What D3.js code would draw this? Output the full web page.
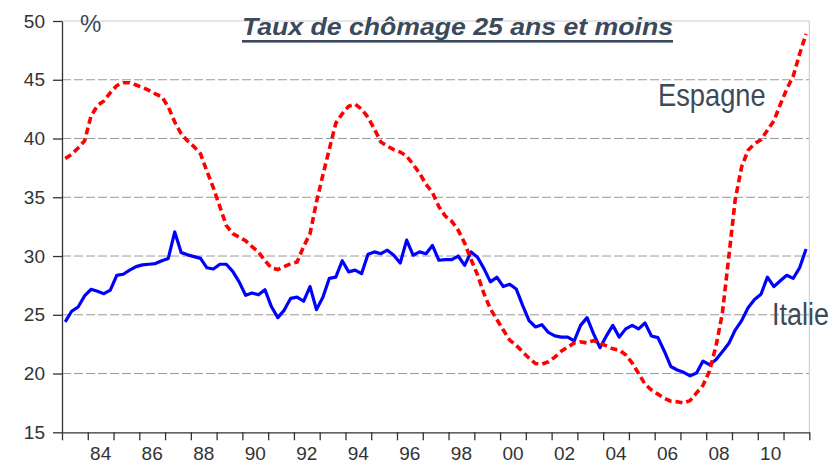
<!DOCTYPE html>
<html>
<head>
<meta charset="utf-8">
<script src="https://cdn.jsdelivr.net/npm/d3@7/dist/d3.min.js"></script>
<style>
  html, body { margin: 0; padding: 0; background: #fff; }
  svg { display: block; }
  text { font-family: "Liberation Sans", Arial, sans-serif; }
</style>
</head>
<body>
<svg id="chart" width="836" height="462"></svg>
<script>
// ---- Data (quarterly, 1983Q1 .. 2011Q4) ----
const startYear = 1983;
const italie = [
  24.4, 25.3, 25.66, 26.6, 27.17, 27.0, 26.8, 27.1,
  28.36, 28.45, 28.8, 29.1, 29.25, 29.3, 29.36, 29.6,
  29.8, 32.05, 30.3, 30.1, 29.95, 29.8, 29.0, 28.9,
  29.3, 29.3, 28.7, 27.8, 26.66, 26.86, 26.7, 27.14,
  25.7, 24.76, 25.4, 26.4, 26.5, 26.15, 27.4, 25.44,
  26.5, 28.1, 28.2, 29.6, 28.65, 28.8, 28.5, 30.15,
  30.35, 30.2, 30.5, 30.07, 29.4, 31.35, 30.07, 30.35,
  30.2, 30.9, 29.64, 29.7, 29.7, 30.0, 29.2, 30.35,
  29.9, 28.93, 27.8, 28.2, 27.4, 27.6, 27.2, 25.8,
  24.5, 23.96, 24.16, 23.5, 23.2, 23.1, 23.1, 22.77,
  24.1, 24.76, 23.4, 22.2, 23.2, 24.1, 23.1, 23.8,
  24.1, 23.8, 24.3, 23.2, 23.06, 21.9, 20.6, 20.3,
  20.1, 19.8, 20.04, 21.06, 20.75, 21.18, 21.85, 22.55,
  23.7, 24.5, 25.6, 26.3, 26.75, 28.2, 27.4, 27.9,
  28.36, 28.1, 29.0, 30.6
];
const espagne = [
  38.3, 38.65, 39.2, 39.8, 41.9, 42.8, 43.2, 43.9,
  44.5, 44.75, 44.75, 44.55, 44.35, 44.1, 43.8, 43.55,
  42.7, 41.4, 40.4, 39.8, 39.3, 38.7, 37.2, 35.8,
  34.2, 32.6, 31.9, 31.6, 31.3, 30.8, 30.35, 29.6,
  29.0, 28.85, 29.1, 29.35, 29.5, 30.8, 31.9, 34.6,
  36.9, 39.1, 41.3, 42.1, 42.75, 42.93, 42.5, 41.8,
  40.8, 39.7, 39.35, 39.05, 38.85, 38.5, 37.8, 37.05,
  36.1, 35.4, 34.2, 33.4, 32.95, 32.2, 31.1, 29.7,
  28.4, 26.8, 25.5, 24.6, 23.7, 22.85, 22.4, 21.85,
  21.3, 20.85, 20.8, 21.0, 21.4, 21.9, 22.25, 22.6,
  22.7, 22.6, 22.8, 22.6, 22.35, 22.1, 22.0, 21.6,
  20.9, 20.0, 19.1, 18.6, 18.25, 17.9, 17.65, 17.6,
  17.5, 17.7, 18.35, 19.0, 20.2, 22.3, 25.1, 29.9,
  34.8, 37.6, 39.0, 39.55, 39.9, 40.7, 41.5, 42.9,
  44.2, 45.3, 47.2, 48.9
];
const yTicks = [15, 20, 25, 30, 35, 40, 45, 50];
const xLabelYears = [1984, 1986, 1988, 1990, 1992, 1994, 1996, 1998, 2000, 2002, 2004, 2006, 2008, 2010];
const xLabels = ["84", "86", "88", "90", "92", "94", "96", "98", "00", "02", "04", "06", "08", "10"];
const title = "Taux de chômage 25 ans et moins";

(function () {
  // ---- Layout ----
  const svg = d3.select("#chart");
  const pL = 62, pR = 809.3, pT = 21, pB = 432.3;
  const x = d3.scaleLinear().domain([1983, 2012]).range([pL, pR]);
  const y = d3.scaleLinear().domain([15, 50]).range([pB, pT]);
  const dateOf = i => startYear + i / 4 + 0.125;

  // gridlines
  svg.append("g").selectAll("line")
    .data(yTicks.filter(v => v > 15 && v < 50))
    .join("line")
    .attr("x1", pL).attr("x2", pR)
    .attr("y1", d => y(d)).attr("y2", d => y(d))
    .attr("stroke", "#9a9a9a").attr("stroke-width", 1)
    .attr("stroke-dasharray", "9,3");

  // frame top and right (light)
  svg.append("line").attr("x1", pL).attr("x2", pR).attr("y1", y(50)).attr("y2", y(50))
    .attr("stroke", "#cfcfcf").attr("stroke-width", 1);
  svg.append("line").attr("x1", pR).attr("x2", pR).attr("y1", y(50)).attr("y2", pB)
    .attr("stroke", "#c8c8c8").attr("stroke-width", 1);

  // y axis
  const yAxis = svg.append("g")
    .attr("transform", `translate(${pL},0)`)
    .call(d3.axisLeft(y).tickValues(yTicks).tickSize(9).tickPadding(8).tickSizeOuter(0));
  yAxis.select(".domain").attr("stroke", "#333").attr("stroke-width", 1.3);
  yAxis.selectAll(".tick line").attr("stroke", "#333").attr("stroke-width", 1.3);
  yAxis.selectAll(".tick text").attr("font-size", 19).attr("fill", "#333")
    .attr("font-family", "Liberation Sans, Arial, sans-serif");

  // x axis ticks (one per year)
  const xAxis = svg.append("g")
    .attr("transform", `translate(0,${pB})`)
    .call(d3.axisBottom(x).tickValues(d3.range(1983, 2013)).tickSize(8).tickFormat("").tickSizeOuter(0));
  xAxis.select(".domain").attr("stroke", "#333").attr("stroke-width", 1.3);
  xAxis.selectAll(".tick line").attr("stroke", "#333").attr("stroke-width", 1.3);

  // x labels centered in the year interval
  svg.append("g").selectAll("text")
    .data(xLabelYears)
    .join("text")
    .attr("x", d => x(d + 0.5))
    .attr("y", 459.5)
    .attr("text-anchor", "middle")
    .attr("font-size", 19)
    .attr("fill", "#333")
    .text((d, i) => xLabels[i]);

  // lines
  const line = d3.line().x((d, i) => x(dateOf(i))).y(d => y(d));
  svg.append("path").datum(italie)
    .attr("d", line).attr("fill", "none")
    .attr("stroke", "#0000ff").attr("stroke-width", 3.2)
    .attr("stroke-linejoin", "round");
  svg.append("path").datum(espagne)
    .attr("d", line).attr("fill", "none")
    .attr("stroke", "#ff0000").attr("stroke-width", 3.6)
    .attr("stroke-dasharray", "7,4");

  // texts
  const tcol = "#3b4a5a";
  svg.append("text").attr("x", 80).attr("y", 32).attr("font-size", 24).attr("fill", tcol).text("%");
  svg.append("text").attr("x", 242).attr("y", 35)
    .attr("font-size", 24).attr("font-weight", "bold").attr("font-style", "italic")
    .attr("fill", tcol).attr("textLength", 431).attr("lengthAdjust", "spacingAndGlyphs")
    .text(title);
  svg.append("rect").attr("x", 242).attr("y", 40).attr("width", 431).attr("height", 2.6).attr("fill", tcol);

  svg.append("text")
    .attr("transform", "translate(658,106) scale(0.88,1)")
    .attr("font-size", 31).attr("fill", "#3d4a59")
    .text("Espagne");
  svg.append("text")
    .attr("transform", "translate(772,325) scale(0.87,1)")
    .attr("font-size", 31).attr("fill", "#3d4a59")
    .text("Italie");
})();
</script>
</body>
</html>
